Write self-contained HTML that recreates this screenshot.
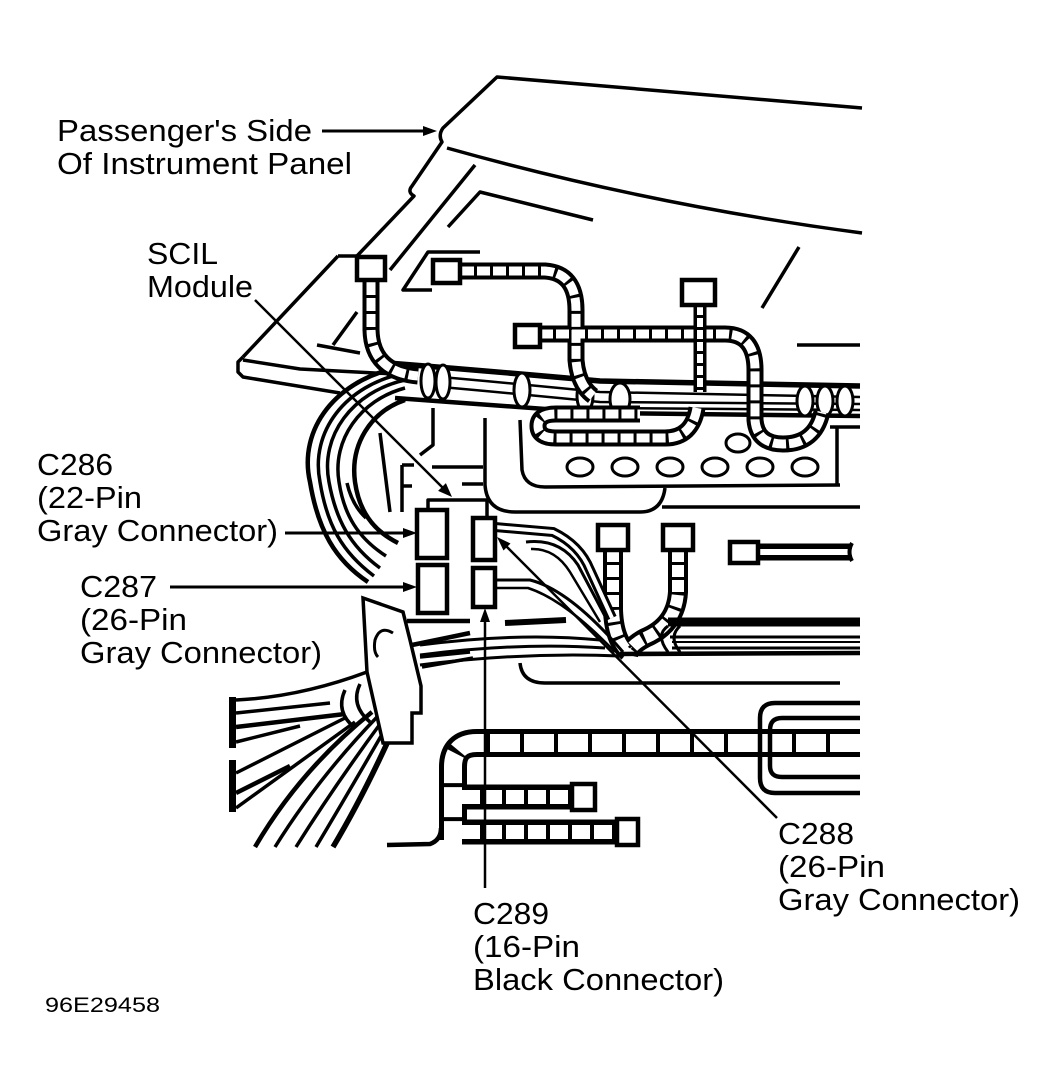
<!DOCTYPE html>
<html><head><meta charset="utf-8"><style>
html,body{margin:0;padding:0;background:#fff;}
svg{display:block;}
text{font-family:"Liberation Sans",Arial,sans-serif;font-size:31px;fill:#000;}
</style></head><body>
<svg width="1057" height="1087" viewBox="0 0 1057 1087" xmlns="http://www.w3.org/2000/svg">
<defs>
 <path id="t1" d="M371,282 L371,330 Q372,372 418,376"/>
 <path id="t2" d="M461,271 L545,271 Q576,273 576,310 L576,360 Q578,385 593,396"/>
 <path id="t3" d="M540,334 L725,334 Q755,334 755,370 L755,420 Q757,444 783,444 Q815,444 822,412"/>
 <path id="t5" d="M697,408 Q692,438 665,438 L556,438 Q538,438 538,426 Q538,414 556,414 L640,414"/>
 <path id="t4" d="M700,306 L700,392"/>
 <path id="s5" d="M613,550 L613,610 Q614,640 628,652"/>
 <path id="s6" d="M678,550 L678,592 Q676,625 645,638 Q630,646 628,655"/>
 <path id="tl" d="M860,743 L477,743 Q453,743 453,767 L453,840"/>
 <path id="ts1" d="M462,797 L573,797"/>
 <path id="ts2" d="M462,832 L618,832"/>
 <path id="w1" d="M495,527 L553,532 Q580,545 590,570 L612,618"/>
</defs>

<g fill="none" stroke="#000" stroke-width="3.5" stroke-linejoin="round">
 <!-- panel outline -->
 <path d="M862,108 L497,77 L443,128 Q438,135 442,142 L412,186 Q407,192 414,196 L357,256"/>
 <path d="M338,256 L357,256 M338,256 L243,357"/>
 <path d="M243,357 L238,362 L238,372 L243,377 L340,393"/>
 <path d="M243,360 L300,369 L395,374"/>
 <path d="M447,148 Q650,205 862,233"/>
 <path d="M475,165 L390,270"/>
 <path d="M448,227 L480,192 L593,220"/>
 <path d="M480,252 L428,252 L403,290 L432,290"/>
 <path d="M799,247 L762,308"/>
 <path d="M797,345 L860,345"/>
 <path d="M357,312 L333,345 M317,345 L360,353"/>

 <!-- left arcs -->
 <path stroke-width="4.5" d="M405,366 C335,378 298,430 310,482 C318,530 335,560 368,582"/>
 <path d="M405,373 C345,385 310,432 320,482 C327,525 342,552 374,576"/>
 <path d="M405,380 C352,392 320,436 329,482 C336,520 350,546 380,568"/>
 <path d="M405,388 C360,400 332,440 339,482 C344,515 358,538 386,556"/>
 <path stroke-width="4.5" d="M405,400 C370,412 350,445 355,482 C359,510 372,530 398,543"/>
 <path d="M347,483 Q352,505 366,518"/>
 <path d="M380,433 L390,512"/>

 <!-- main upper harness -->
 <path stroke-width="5.5" d="M388,363 Q500,372 600,381 L860,386"/>
 <path stroke-width="4.5" d="M395,398 Q500,406 600,413 L860,416"/>
 <path stroke-width="2.5" d="M430,376 Q520,384 600,392 L860,397"/>
 <path stroke-width="2.5" d="M430,386 Q520,394 600,402 L860,404"/>
 <path stroke-width="2.5" d="M600,408 L860,410"/>

 <!-- middle structure -->
 <path d="M433,408 L433,445 L420,455"/>
 <path d="M402,465 L402,512 M402,465 L414,465 M402,486 L412,486"/>
 <path d="M432,467 L483,467 M462,484 L483,484"/>
 <path d="M485,418 L485,485 Q487,512 515,512 L640,512 Q662,512 665,488"/>
 <path d="M662,507 L860,507"/>
 <path d="M520,420 L522,470 Q525,487 545,487 L840,485"/>
 <path d="M837,427 L837,485 M830,427 L860,427"/>
 <path d="M428,510 L428,500 L487,500 L487,518"/>
</g>

<!-- rings on upper harness -->
<g fill="#fff" stroke="#000" stroke-width="3">
 <ellipse cx="428" cy="381" rx="7" ry="17"/>
 <ellipse cx="443" cy="382" rx="7" ry="17"/>
 <ellipse cx="522" cy="390" rx="8" ry="17"/>
 <ellipse cx="585" cy="396" rx="8" ry="16"/>
 <ellipse cx="620" cy="399" rx="10" ry="16"/>
 <ellipse cx="805" cy="401" rx="8" ry="15"/>
 <ellipse cx="825" cy="401" rx="8" ry="15"/>
 <ellipse cx="845" cy="401" rx="8" ry="15"/>
</g>

<!-- tubes -->
<g fill="none" stroke="#000" stroke-width="17"><use href="#t1"/><use href="#t2"/><use href="#t3"/><use href="#t5"/></g>
<g fill="none" stroke="#fff" stroke-width="9" stroke-dasharray="13 3"><use href="#t1"/><use href="#t2"/><use href="#t3"/><use href="#t5"/></g>
<g fill="none" stroke="#000" stroke-width="13"><use href="#t4"/></g>
<g fill="none" stroke="#fff" stroke-width="6" stroke-dasharray="9 3"><use href="#t4"/></g>
<g fill="none" stroke="#000" stroke-width="20"><use href="#s5"/><use href="#s6"/></g>
<g fill="none" stroke="#fff" stroke-width="12" stroke-dasharray="12 3"><use href="#s5"/><use href="#s6"/></g>
<g fill="none" stroke="#000" stroke-width="28"><use href="#tl"/></g>
<g fill="none" stroke="#fff" stroke-width="18" stroke-dasharray="30 4"><use href="#tl"/></g>
<g fill="none" stroke="#000" stroke-width="25"><use href="#ts1"/><use href="#ts2"/></g>
<g fill="none" stroke="#fff" stroke-width="14" stroke-dasharray="18 4"><use href="#ts1"/><use href="#ts2"/></g>
<use href="#w1" fill="none" stroke="#000" stroke-width="10"/>
<use href="#w1" fill="none" stroke="#fff" stroke-width="4"/>

<!-- circles panel -->
<g fill="#fff" stroke="#000" stroke-width="3">
 <ellipse cx="580" cy="467" rx="13" ry="9"/>
 <ellipse cx="625" cy="467" rx="13" ry="9"/>
 <ellipse cx="670" cy="467" rx="13" ry="9"/>
 <ellipse cx="715" cy="467" rx="13" ry="9"/>
 <ellipse cx="760" cy="467" rx="13" ry="9"/>
 <ellipse cx="805" cy="467" rx="13" ry="9"/>
 <ellipse cx="738" cy="443" rx="12" ry="9"/>
</g>

<!-- connector squares -->
<g fill="#fff" stroke="#000" stroke-width="4.5">
 <rect x="357" y="257" width="28" height="23"/>
 <rect x="433" y="260" width="27" height="23"/>
 <rect x="682" y="280" width="33" height="25"/>
 <rect x="515" y="325" width="25" height="22"/>
 <rect x="598" y="525" width="30" height="25"/>
 <rect x="663" y="525" width="30" height="25"/>
 <rect x="417" y="510" width="30" height="48"/>
 <rect x="418" y="565" width="29" height="48"/>
 <rect x="473" y="518" width="22" height="42"/>
 <rect x="473" y="568" width="22" height="39"/>
 <rect x="572" y="784" width="23" height="26"/>
 <rect x="617" y="819" width="21" height="26"/>
</g>
<!-- S7 -->
<path d="M758,552 L852,552" stroke="#000" stroke-width="17" fill="none"/>
<path d="M758,552 L852,552" stroke="#fff" stroke-width="6" fill="none"/>
<rect x="730" y="542" width="28" height="21" fill="#fff" stroke="#000" stroke-width="4.5"/>
<path d="M852,543 Q847,552 852,561" stroke="#000" stroke-width="4" fill="none"/>

<!-- wires right of C288/C289, lower harness -->
<g fill="none" stroke="#000" stroke-width="3">
 <path d="M526,542 Q560,538 578,565 L606,618"/>
 <path stroke-width="2.5" d="M531,549 Q555,548 570,572 L600,622"/>
 <path d="M495,580 L530,580 Q570,590 623,652"/>
 <path stroke-width="2.5" d="M495,588 L528,588 Q565,600 615,652"/>
 <path stroke-width="6" d="M505,623 L566,620"/>
 <path d="M420,645 Q520,632 600,640"/>
 <path d="M420,655 Q520,642 605,648"/>
 <path d="M420,665 Q520,652 620,656"/>
 <path stroke-width="9" d="M668,622 L860,622"/>
 <path d="M670,637 L860,637"/>
 <path stroke-width="2" d="M672,642 L860,642"/>
 <path d="M672,648 L860,648"/>
 <path stroke-width="4.5" d="M620,654 L860,653"/>
 <path d="M668,626 Q655,635 668,652 M680,626 Q668,637 680,652"/>
 <path stroke-width="3.5" d="M520,663 Q522,683 545,683 L840,683"/>
 <path stroke-width="4.5" d="M407,621 L470,621"/>
</g>

<!-- right bracket -->
<g fill="none" stroke="#000" stroke-width="4.5">
 <path d="M860,703 L775,703 Q760,703 760,718 L760,778 Q760,793 775,793 L860,793"/>
 <path d="M860,718 L782,718 Q770,718 770,730 L770,766 Q770,777 782,777 L860,777"/>
</g>

<!-- lower-left bracket and fan -->
<g fill="none" stroke="#000" stroke-width="3.5">
 <path d="M236,700 Q300,697 367,672"/>
 <path d="M236,713 L330,703"/>
 <path stroke-width="4.5" d="M236,727 L345,714"/>
 <path d="M236,742 L300,726"/>
 <path d="M236,773 L345,718"/>
 <path stroke-width="4.5" d="M236,793 L290,766"/>
 <path d="M236,808 L355,722"/>
 <path stroke-width="4.5" d="M372,712 Q300,770 255,847"/>
 <path d="M378,716 Q318,778 275,847"/>
 <path d="M383,720 Q335,785 296,847"/>
 <path d="M388,724 Q350,790 316,847"/>
 <path stroke-width="5.5" d="M394,728 Q364,795 333,847"/>
 <path d="M345,690 Q335,712 355,728 M360,684 Q350,705 370,722"/>
 <path stroke-width="4.5" d="M412,645 L470,633"/>
 <path d="M420,657 L470,652 M422,667 L473,658"/>
 <path stroke-width="4.5" d="M387,845 L430,844 Q441,840 441,828"/>
</g>
<rect x="229" y="697" width="7" height="51" fill="#000"/>
<rect x="229" y="760" width="7" height="52" fill="#000"/>
<polygon points="363,598 367,672 383,743 412,743 412,713 421,713 421,686 410,640 403,612" fill="#fff" stroke="#000" stroke-width="3.5"/>
<path d="M393,633 Q380,625 375,640 Q373,652 378,657" fill="none" stroke="#000" stroke-width="3"/>

<!-- leader lines and arrows -->
<g stroke="#000" stroke-width="3" fill="none">
 <path d="M322,131 L426,131"/>
 <path d="M285,533 L406,533"/>
 <path d="M170,587 L406,587"/>
 <path stroke-width="2.5" d="M255,300 L444,489"/>
 <path stroke-width="2.5" d="M777,818 L506,546"/>
 <path stroke-width="2.5" d="M485,888 L485,620"/>
</g>
<g fill="#000">
 <polygon points="437,131 423,126 423,136"/>
 <polygon points="417,533 403,528 403,538"/>
 <polygon points="417,587 403,582 403,592"/>
 <polygon points="452,497 445.9,483.1 438.1,490.9"/>
 <polygon points="497,537 510.5,543.5 503.5,550.5"/>
 <polygon points="485,608 480,622 490,622"/>
</g>

<!-- labels -->
<text x="57" y="141" textLength="255" lengthAdjust="spacingAndGlyphs">Passenger's Side</text>
<text x="57" y="174" textLength="295" lengthAdjust="spacingAndGlyphs">Of Instrument Panel</text>
<text x="147" y="264" textLength="71" lengthAdjust="spacingAndGlyphs">SCIL</text>
<text x="147" y="297" textLength="106" lengthAdjust="spacingAndGlyphs">Module</text>
<text x="37" y="475" textLength="76" lengthAdjust="spacingAndGlyphs">C286</text>
<text x="37" y="508" textLength="105" lengthAdjust="spacingAndGlyphs">(22-Pin</text>
<text x="37" y="541" textLength="241" lengthAdjust="spacingAndGlyphs">Gray Connector)</text>
<text x="80" y="597" textLength="77" lengthAdjust="spacingAndGlyphs">C287</text>
<text x="80" y="630" textLength="107" lengthAdjust="spacingAndGlyphs">(26-Pin</text>
<text x="80" y="663" textLength="242" lengthAdjust="spacingAndGlyphs">Gray Connector)</text>
<text x="778" y="844" textLength="76" lengthAdjust="spacingAndGlyphs">C288</text>
<text x="778" y="877" textLength="107" lengthAdjust="spacingAndGlyphs">(26-Pin</text>
<text x="778" y="910" textLength="242" lengthAdjust="spacingAndGlyphs">Gray Connector)</text>
<text x="473" y="924" textLength="76" lengthAdjust="spacingAndGlyphs">C289</text>
<text x="473" y="957" textLength="107" lengthAdjust="spacingAndGlyphs">(16-Pin</text>
<text x="473" y="990" textLength="251" lengthAdjust="spacingAndGlyphs">Black Connector)</text>
<text x="45" y="1012" style="font-size:21px" textLength="115" lengthAdjust="spacingAndGlyphs">96E29458</text>
</svg>
</body></html>
